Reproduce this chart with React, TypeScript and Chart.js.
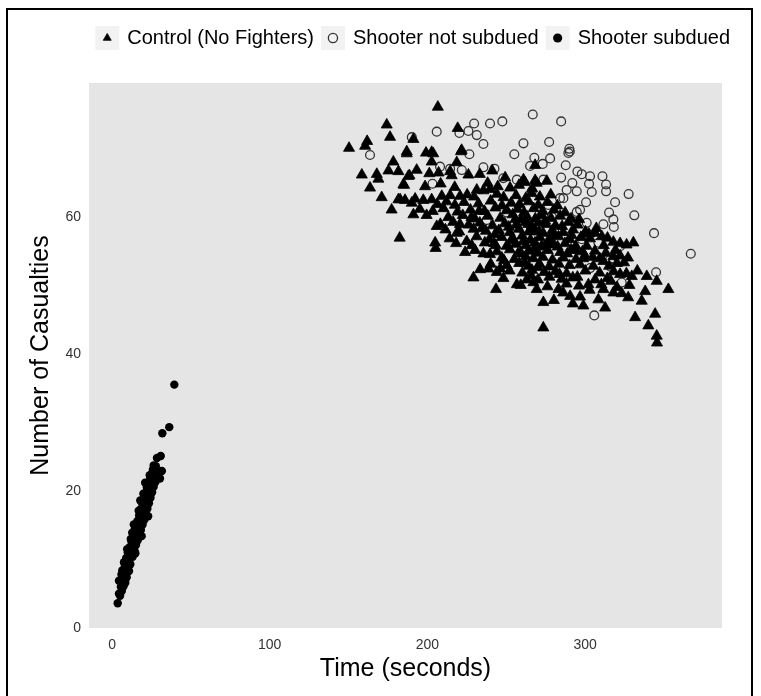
import { useEffect, useRef } from "react";
import { Chart, registerables } from "chart.js";

Chart.register(...registerables);

const SERIES_NAMES = ["Control (No Fighters)", "Shooter not subdued", "Shooter subdued"];
const X_TITLE = "Time (seconds)";
const Y_TITLE = "Number of Casualties";
const X_TICKS = [0, 100, 200, 300];
const Y_TICKS = [0, 20, 40, 60];
const X_RANGE = [-14.6, 386.8];
const Y_RANGE = [0, 79.5];

// [time, casualties]
const controlPoints: [number, number][] = [
  [150.3, 70.0], [160.5, 70.3], [161.8, 71.0], [174.2, 73.4], [176.3, 71.6], [191.1, 71.3], [186.9, 69.5],
  [178.4, 68.0], [158.4, 66.1], [167.9, 66.2], [168.9, 65.5], [175.3, 66.7], [181.6, 66.6], [188.6, 66.0],
  [163.6, 64.2], [184.8, 64.7], [171.0, 62.8], [181.6, 62.5], [185.8, 62.4], [190.1, 62.0], [177.3, 61.0],
  [191.1, 60.3], [182.4, 56.9],
  [206.6, 76.0], [219.2, 72.9], [186.9, 69.2], [199.1, 69.3], [202.7, 69.4], [221.3, 69.5], [202.7, 68.0],
  [218.6, 67.9], [187.9, 65.9], [201.2, 66.3], [214.4, 66.6], [226.0, 66.1], [185.2, 64.6], [198.5, 64.4],
  [249.3, 65.7], [260.9, 65.4], [268.3, 65.3], [275.7, 65.2], [231.3, 63.9], [235.5, 63.8], [239.7, 64.0],
  [252.4, 64.2], [182.7, 62.5], [192.2, 62.6], [197.4, 62.4], [202.7, 62.5], [209.1, 63.0], [214.4, 63.1],
  [220.7, 63.0], [199.5, 60.2], [205.9, 58.6], [204.9, 56.2], [205.2, 55.4],
  [218.6, 57.6], [224.9, 56.4], [223.9, 54.8], [235.5, 54.6], [239.7, 54.5], [229.2, 51.1], [233.4, 52.3],
  [238.7, 52.4], [244.0, 51.9], [246.2, 52.4], [243.5, 49.4], [256.7, 50.1], [263.0, 50.8], [267.2, 50.4],
  [269.3, 49.4], [273.5, 47.5], [273.5, 43.8], [283.1, 49.4], [290.5, 48.4], [296.8, 48.3], [298.9, 47.0],
  [302.1, 50.1], [308.4, 47.9], [312.7, 46.7], [311.6, 49.4], [317.9, 48.9], [323.2, 48.8], [322.2, 51.6],
  [329.6, 51.3], [330.6, 56.2], [317.9, 56.3], [322.2, 56.1], [339.1, 51.3], [345.4, 50.6], [352.8, 49.4],
  [335.9, 47.7], [331.7, 45.3], [344.4, 45.8], [340.1, 44.1], [345.4, 42.6], [345.6, 41.6], [306.3, 57.6],
  [310.6, 57.1], [317.9, 54.2], [322.2, 54.3], [301.0, 55.7], [296.8, 53.0], [305.2, 52.8], [311.6, 53.5],
  [268.3, 67.5], [261.9, 65.0], [269.3, 64.9], [215.4, 66.0], [203.7, 69.2], [221.7, 69.7],
  [208.4, 64.8], [217.3, 64.3], [238.2, 64.9], [244.6, 64.4], [258.1, 64.6], [266.4, 64.1],
  [225.2, 63.2], [229.6, 62.9], [244.1, 63.3], [248.3, 62.8], [256.2, 63.1], [262.4, 62.7], [266.1, 63.4],
  [271.3, 62.9], [278.2, 63.2],
  [206.3, 61.8], [212.1, 62.2], [217.4, 61.7], [223.2, 62.1], [232.4, 61.9], [240.1, 62.3], [247.3, 61.6],
  [253.1, 62.0], [258.4, 61.8], [264.2, 62.2], [270.3, 61.7], [276.1, 62.1], [282.4, 61.6],
  [195.2, 61.1], [203.4, 60.8], [210.2, 61.2], [219.1, 60.7], [227.3, 61.0], [236.2, 60.8], [243.1, 61.3],
  [250.4, 60.9], [257.2, 61.1], [261.3, 60.6], [267.4, 61.2], [273.1, 60.8], [280.2, 61.0], [287.3, 60.6],
  [213.2, 59.9], [222.4, 60.2], [230.1, 59.7], [238.3, 60.1], [246.2, 59.8], [254.1, 60.3], [259.3, 59.6],
  [263.2, 60.0], [268.4, 59.7], [272.1, 60.2], [278.3, 59.8], [284.2, 60.1], [291.1, 59.7],
  [208.2, 58.9], [216.3, 59.2], [226.1, 58.8], [233.2, 59.1], [241.3, 58.7], [249.1, 59.0], [256.3, 58.8],
  [262.1, 59.2], [266.2, 58.6], [270.4, 59.1], [275.3, 58.9], [281.2, 58.7], [289.4, 59.2], [295.2, 58.8],
  [211.4, 58.1], [220.2, 57.8], [229.3, 58.2], [237.1, 57.9], [245.3, 58.0], [252.2, 57.7], [258.1, 58.2],
  [264.3, 57.8], [268.2, 58.1], [273.4, 57.6], [279.2, 58.0], [286.1, 57.7], [292.3, 58.1], [300.2, 57.8],
  [214.1, 56.8], [231.2, 57.1], [239.3, 56.7], [247.1, 57.0], [254.2, 56.8], [260.1, 57.2], [265.3, 56.6],
  [271.2, 57.0], [277.4, 56.8], [283.1, 57.1], [290.2, 56.7], [297.3, 57.0], [303.1, 56.8], [314.2, 56.9],
  [228.1, 55.8], [242.3, 56.1], [250.2, 55.7], [256.1, 56.0], [262.4, 55.8], [268.2, 56.2], [274.1, 55.6],
  [280.3, 55.9], [287.2, 56.1], [294.1, 55.7], [326.3, 55.9],
  [230.2, 55.1], [244.1, 54.9], [252.3, 55.2], [259.1, 54.8], [264.2, 55.0], [270.1, 54.7], [276.3, 55.1],
  [284.2, 54.8], [291.1, 55.2], [298.3, 54.9], [306.2, 55.0], [313.1, 54.7], [319.2, 55.1],
  [247.2, 54.0], [255.1, 53.8], [262.3, 54.2], [267.1, 53.9], [273.2, 54.1], [279.3, 53.7], [286.1, 54.0],
  [294.2, 53.8], [300.1, 54.2], [309.3, 53.9], [327.2, 54.0],
  [240.1, 53.1], [250.3, 52.9], [258.2, 53.2], [264.1, 52.8], [271.3, 53.0], [277.2, 52.7], [283.4, 53.1],
  [290.1, 52.9], [315.2, 52.8], [320.3, 53.2],
  [252.1, 52.1], [260.2, 51.8], [266.3, 52.2], [274.1, 51.9], [281.2, 52.0], [288.3, 51.7], [300.1, 52.1],
  [309.2, 51.8], [318.1, 52.0], [326.2, 51.7], [333.1, 52.1],
  [248.2, 51.0], [270.1, 50.8], [277.3, 51.2], [285.1, 50.9], [292.2, 51.1], [306.3, 50.8], [314.1, 51.0],
  [259.2, 50.0], [276.1, 49.8], [288.2, 50.2], [296.1, 49.9], [310.3, 50.1], [320.2, 49.7], [328.1, 50.0],
  [193.2, 66.8], [207.1, 66.4], [233.2, 66.2], [241.1, 66.7],
  [280.2, 47.8], [286.1, 48.9], [292.2, 47.3], [327.3, 48.2], [338.1, 49.1],
  [234.5, 58.3], [242.8, 57.4], [251.6, 58.5], [255.7, 59.6], [260.8, 56.4], [263.9, 58.9], [267.7, 55.3],
  [270.9, 57.8], [274.6, 59.4], [276.8, 56.1], [279.9, 57.3], [282.6, 55.6], [285.4, 58.6], [288.7, 54.6],
  [291.4, 57.3], [293.8, 55.1], [296.2, 59.6], [298.7, 53.9], [302.4, 57.5], [304.8, 54.1], [307.1, 58.3],
  [311.8, 55.8], [252.9, 56.5], [257.4, 54.6], [261.6, 53.3], [265.8, 51.4], [269.7, 52.6], [272.4, 55.7],
  [248.6, 53.6], [243.3, 55.8], [236.4, 56.2], [232.8, 60.8], [227.9, 59.9], [220.6, 58.9], [218.2, 56.1],
  [283.7, 51.6], [295.1, 51.2], [302.8, 49.3], [316.4, 50.6], [324.7, 53.3],
];

const notSubduedPoints: [number, number][] = [
  [190.1, 71.6], [163.6, 69.0], [205.9, 72.4], [220.3, 72.2], [226.0, 72.5], [229.6, 73.6], [231.3, 71.9],
  [235.5, 70.6], [239.7, 73.6], [247.5, 73.9], [266.8, 74.9], [284.8, 73.9], [226.6, 69.1], [208.0, 67.3],
  [221.8, 66.8], [235.5, 67.2], [242.5, 67.0], [255.1, 69.1], [260.9, 70.7], [277.2, 70.9], [290.0, 69.9],
  [289.4, 69.3], [267.8, 68.6], [273.1, 67.7], [277.8, 68.5], [265.1, 67.4], [287.7, 67.5], [284.8, 65.7],
  [256.7, 65.4], [248.1, 65.6], [273.5, 65.4], [295.1, 66.6], [297.9, 66.2], [303.1, 65.9], [311.0, 65.9],
  [291.9, 64.9], [313.3, 64.7], [313.3, 63.7], [288.3, 63.9], [294.7, 63.7], [304.2, 63.6], [327.6, 63.3],
  [300.6, 62.1], [319.0, 62.1], [331.2, 60.2], [315.2, 60.6], [317.9, 59.6], [301.0, 59.1], [311.6, 58.9],
  [318.2, 58.5], [343.7, 57.6], [367.0, 54.6], [297.9, 56.7], [308.4, 56.2], [322.2, 55.7], [315.9, 53.7],
  [316.1, 52.7], [345.0, 51.9], [323.2, 50.4], [305.8, 45.6], [250.3, 60.6], [279.8, 53.2], [276.7, 61.7],
  [284.1, 62.7], [296.8, 61.0], [203.2, 64.8], [214.4, 67.0], [294.7, 60.7], [266.2, 63.7], [286.2, 62.7],
  [237.6, 59.5], [278.8, 60.0], [292.5, 59.3], [290.3, 69.5], [303.2, 52.5], [260.3, 58.2], [302.5, 64.8],
];

const subduedPoints: [number, number][] = [
  [3.6, 3.6], [4.4, 5.0], [5.1, 4.7], [4.4, 6.9], [5.6, 6.0], [6.2, 5.4], [6.8, 6.9], [7.3, 6.1], [6.0, 7.8],
  [7.9, 7.3], [8.4, 6.6], [7.2, 8.5], [8.8, 8.0], [9.3, 7.4], [8.1, 9.3], [9.7, 8.6], [10.2, 9.4], [9.0, 10.2],
  [10.8, 8.3], [11.1, 10.1], [10.0, 11.0], [11.6, 9.3], [12.0, 10.7], [11.2, 11.8], [12.5, 11.5], [13.1, 10.4],
  [12.3, 12.6], [13.6, 12.0], [14.2, 11.3], [13.4, 13.3], [14.6, 12.8], [15.2, 12.1], [14.1, 14.2], [15.6, 13.6],
  [16.3, 12.8], [15.2, 14.8], [16.7, 14.3], [17.4, 13.5], [16.1, 15.6], [17.6, 15.1], [18.3, 14.3], [17.2, 16.4],
  [18.6, 15.9], [19.4, 15.1], [18.1, 17.3], [19.7, 16.7], [20.5, 15.8], [19.2, 18.1], [20.6, 17.5], [21.4, 16.6],
  [20.1, 18.9], [21.6, 18.3], [22.4, 17.4], [21.2, 19.7], [22.6, 19.1], [23.4, 18.2], [22.1, 20.5], [23.6, 19.9],
  [24.4, 19.0], [23.2, 21.2], [24.6, 20.7], [25.4, 19.8], [24.2, 21.9], [25.6, 21.4], [26.4, 20.6], [25.3, 22.5],
  [26.7, 22.1], [27.5, 21.3], [28.4, 21.9], [27.1, 23.0], [28.2, 22.6], [29.0, 22.3], [26.4, 23.7], [28.5, 24.8],
  [30.9, 25.1], [31.9, 28.4], [36.3, 29.3], [39.5, 35.5], [12.8, 13.9], [16.9, 17.1], [19.9, 19.6], [23.9, 22.3],
  [9.6, 11.5], [14.8, 10.9], [18.8, 13.4], [22.9, 16.3], [7.6, 9.6], [11.9, 13.0], [21.0, 21.2], [25.9, 23.1],
  [6.5, 8.4], [13.8, 15.1], [17.9, 18.6], [27.8, 23.6], [30.4, 21.8], [31.6, 22.9],
];

const FONT = "'Liberation Sans', Arial, Helvetica, sans-serif";

const toXY = (pts: [number, number][]) => pts.map(([x, y]) => ({ x, y }));

const panelPlugin = {
  id: "panelBg",
  beforeDraw(chart: any) {
    const { ctx, chartArea: a } = chart;
    ctx.save();
    ctx.fillStyle = "#e5e5e5";
    ctx.fillRect(a.left, a.top, a.right - a.left, a.bottom - a.top);
    const lg = chart.legend;
    if (lg && lg.legendHitBoxes) {
      ctx.fillStyle = "#f2f2f2";
      const bw = lg.options.labels.font.size;
      for (const hb of lg.legendHitBoxes) {
        const cx = hb.left + bw / 2;
        const cy = hb.top + hb.height / 2;
        ctx.fillRect(cx - 12, cy - 12, 24, 24);
      }
    }
    ctx.restore();
  },
};

export default function App() {
  const ref = useRef<HTMLCanvasElement | null>(null);

  useEffect(() => {
    if (!ref.current) return;
    const chart = new Chart(ref.current, {
      type: "scatter",
      data: {
        datasets: [
          {
            label: SERIES_NAMES[0],
            data: toXY(controlPoints),
            pointStyle: "triangle",
            pointRadius: 6.4,
            backgroundColor: "#000000",
            borderColor: "#000000",
            borderWidth: 0.8,
          },
          {
            label: SERIES_NAMES[1],
            data: toXY(notSubduedPoints),
            pointStyle: "circle",
            pointRadius: 4.4,
            backgroundColor: "rgba(0,0,0,0)",
            borderColor: "#333333",
            borderWidth: 1.3,
          },
          {
            label: SERIES_NAMES[2],
            data: toXY(subduedPoints),
            pointStyle: "circle",
            pointRadius: 4.2,
            backgroundColor: "#000000",
            borderColor: "#000000",
            borderWidth: 0,
          },
        ],
      },
      options: {
        responsive: false,
        animation: false,
        events: [],
        layout: { padding: { top: 19, left: 0, right: 22, bottom: 0 } },
        plugins: {
          tooltip: { enabled: false },
          legend: {
            position: "top",
            align: "end",
            labels: {
              usePointStyle: true,
              boxHeight: 6.5,
              padding: 9,
              color: "#000000",
              font: { family: FONT, size: 20 },
            },
          },
        },
        scales: {
          x: {
            type: "linear",
            position: "bottom",
            min: X_RANGE[0],
            max: X_RANGE[1],
            grid: { display: false, drawTicks: false },
            border: { display: false },
            afterBuildTicks: (s: any) => {
              s.ticks = X_TICKS.map((v) => ({ value: v }));
            },
            afterFit: (s: any) => {
              s.height = 68;
            },
            ticks: {
              color: "#333333",
              padding: 9,
              maxRotation: 0,
              autoSkip: false,
              font: { family: FONT, size: 14 },
            },
            title: {
              display: true,
              text: X_TITLE,
              color: "#000000",
              font: { family: FONT, size: 25 },
              padding: { top: 0, bottom: 12 },
            },
          },
          y: {
            type: "linear",
            position: "left",
            min: Y_RANGE[0],
            max: Y_RANGE[1],
            grid: { display: false, drawTicks: false },
            border: { display: false },
            afterBuildTicks: (s: any) => {
              s.ticks = Y_TICKS.map((v) => ({ value: v }));
            },
            afterFit: (s: any) => {
              s.width = 89;
            },
            ticks: {
              color: "#333333",
              padding: 8,
              autoSkip: false,
              font: { family: FONT, size: 14 },
            },
            title: {
              display: true,
              text: Y_TITLE,
              color: "#000000",
              font: { family: FONT, size: 25 },
              padding: { top: 26, bottom: 0 },
            },
          },
          xTop: {
            type: "linear",
            position: "top",
            display: true,
            grid: { display: false, drawTicks: false },
            border: { display: false },
            ticks: { display: false },
            afterFit: (s: any) => {
              s.height = 25;
            },
          },
          yRight: {
            type: "linear",
            position: "right",
            display: true,
            grid: { display: false, drawTicks: false },
            border: { display: false },
            ticks: { display: false },
            afterFit: (s: any) => {
              s.width = 17;
            },
          },
        },
      } as any,
      plugins: [panelPlugin],
    });
    return () => chart.destroy();
  }, []);

  return (
    <div
      style={{
        position: "fixed",
        left: 0,
        top: 0,
        width: 761,
        height: 696,
        overflow: "hidden",
        background: "#ffffff",
      }}
    >
      <canvas ref={ref} width={761} height={696} style={{ position: "absolute", left: 0, top: 0, width: 761, height: 696 }} />
      <div
        style={{
          position: "absolute",
          left: 6,
          top: 8,
          width: 747,
          height: 720,
          border: "2px solid #000",
          boxSizing: "border-box",
          pointerEvents: "none",
        }}
      />
    </div>
  );
}
